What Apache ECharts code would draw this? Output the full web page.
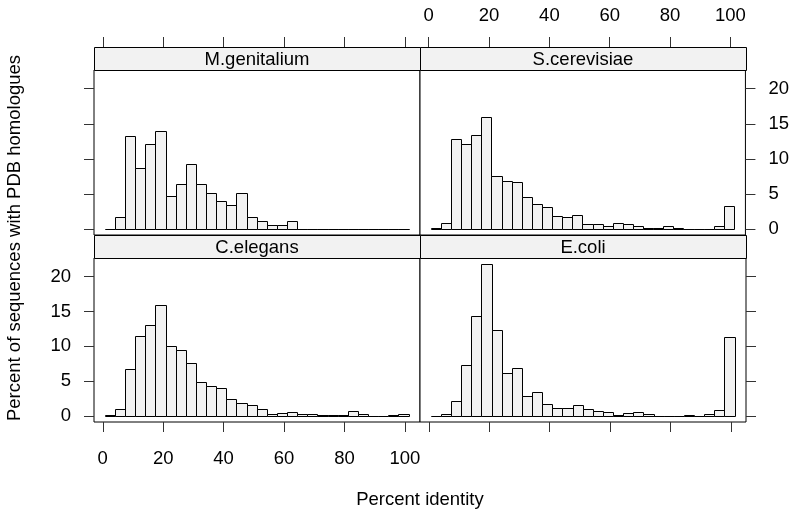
<!DOCTYPE html>
<html>
<head>
<meta charset="utf-8">
<script src="https://cdn.jsdelivr.net/npm/echarts@6/dist/echarts.min.js"></script>
<style>html,body{margin:0;padding:0;background:#fff}#c{width:792px;height:513px}</style>
</head>
<body>
<div id="c"></div>
<script>
// ---- data ----
const panelNames = ['M.genitalium', 'S.cerevisiae', 'C.elegans', 'E.coli'];
const binStart = 0.7;     // first break (percent identity)
const binWidth = 3.35;    // width of each histogram bin
const mGenitalium = [0,1.7,13.3,8.7,12.1,13.9,4.7,6.4,9.2,6.4,5.1,4.0,3.4,5.1,1.7,1.14,0.57,0.57,1.14,0,0,0,0,0,0,0,0,0,0,0];
const sCerevisiae = [0.1,0.86,12.8,12.1,13.4,16.0,7.6,6.8,6.7,4.6,3.6,3.1,1.8,1.7,1.95,0.67,0.67,0.48,0.81,0.67,0.38,0.19,0.19,0.38,0.19,0.05,0.05,0.05,0.38,3.24];
const cElegans = [0.14,1.0,6.67,11.5,13.1,15.9,10.1,9.4,7.6,4.9,4.3,4.05,2.5,1.8,1.6,1.0,0.33,0.43,0.52,0.24,0.24,0.19,0.1,0.14,0.76,0.24,0.05,0.05,0.1,0.33];
const eColi = [0.05,0.33,2.2,7.3,14.4,21.8,12.3,6.2,6.9,2.9,3.4,1.7,1.14,1.14,1.57,1.0,0.76,0.52,0.14,0.38,0.52,0.24,0.05,0.05,0.05,0.14,0.05,0.33,0.81,11.4];
const xTicks = [0, 20, 40, 60, 80, 100];
const yTicks = [0, 5, 10, 15, 20];
const xTitle = 'Percent identity';
const yTitle = 'Percent of sequences with PDB homologues';

// ---- layout ----
const FONT = 'Liberation Sans, Arial, Helvetica, sans-serif';
const FS = 18.5;
const colL = 94, colR = 420, colW = 326;
const stripH = 23;
const rowTop = [70, 258], rowH = [165, 164];
// panel order: [top-left, top-right, bottom-left, bottom-right]
const panels = [
  {name: panelNames[0], values: mGenitalium, col: 0, row: 0},
  {name: panelNames[1], values: sCerevisiae, col: 1, row: 0},
  {name: panelNames[2], values: cElegans, col: 0, row: 1},
  {name: panelNames[3], values: eColi, col: 1, row: 1}
];

const allMax = Math.max(...mGenitalium, ...sCerevisiae, ...cElegans, ...eColi);
const yMin = -0.04 * allMax, yMax = allMax * 1.04;
const xMin = -2.9, xMax = 105;

const grids = [], xAxes = [], yAxes = [], series = [], graphics = [];
const tickStyle = {color: '#333', width: 1};
const labelStyle = {color: '#000', fontSize: FS, fontFamily: FONT};

panels.forEach((p, i) => {
  const left = p.col === 0 ? colL : colR;
  const top = rowTop[p.row];
  grids.push({left: left, top: top, width: colW, height: rowH[p.row],
    show: true, borderColor: '#000', borderWidth: 1, backgroundColor: '#fff'});
  const isTop = p.row === 0;
  const showXLabels = (p.row === 1 && p.col === 0) || (p.row === 0 && p.col === 1);
  const showYLabels = showXLabels;
  xAxes.push({
    type: 'value', gridIndex: i, min: xMin, max: xMax,
    position: isTop ? 'top' : 'bottom', offset: isTop ? stripH : 0,
    axisLine: {show: false, onZero: false}, splitLine: {show: false},
    axisTick: {show: true, length: 10, lineStyle: tickStyle, customValues: xTicks},
    axisLabel: Object.assign({show: showXLabels, margin: isTop ? 22 : 27, customValues: xTicks}, labelStyle)
  });
  yAxes.push({
    type: 'value', gridIndex: i, min: yMin, max: yMax,
    position: p.col === 0 ? 'left' : 'right',
    axisLine: {show: false, onZero: false}, splitLine: {show: false},
    axisTick: {show: true, length: 10, lineStyle: tickStyle, customValues: yTicks},
    axisLabel: Object.assign({show: showYLabels, margin: 23, customValues: yTicks}, labelStyle)
  });
  const data = p.values.map((v, k) => [binStart + k * binWidth, binStart + (k + 1) * binWidth, v]);
  series.push({
    type: 'custom', xAxisIndex: i, yAxisIndex: i, data: data, silent: true,
    renderItem: function (params, api) {
      const a = api.coord([api.value(0), 0]);
      const b = api.coord([api.value(1), api.value(2)]);
      return {
        type: 'rect',
        shape: {x: Math.round(a[0]) + 0.5, y: Math.round(b[1]) + 0.5, width: Math.round(b[0]) - Math.round(a[0]), height: Math.round(a[1]) - Math.round(b[1])},
        style: {fill: '#f2f2f2', stroke: '#000', lineWidth: 1}
      };
    }
  });
  // strip
  graphics.push({type: 'rect', z: 10,
    shape: {x: left + 0.5, y: top - stripH + 0.5, width: colW, height: stripH},
    style: {fill: '#f2f2f2', stroke: '#000', lineWidth: 1}});
  graphics.push({type: 'text', z: 11, x: left + colW / 2, y: top - stripH / 2 + 1,
    style: {text: p.name, font: FS + 'px ' + FONT, fill: '#000', align: 'center', verticalAlign: 'middle'}});
});

graphics.push({type: 'text', x: 420, y: 500,
  style: {text: xTitle, font: FS + 'px ' + FONT, fill: '#000', align: 'center', verticalAlign: 'middle'}});
graphics.push({type: 'text', x: 15, y: 238, rotation: Math.PI / 2,
  style: {text: yTitle, font: FS + 'px ' + FONT, fill: '#000', align: 'center', verticalAlign: 'middle'}});

const chart = echarts.init(document.getElementById('c'), null, {renderer: 'canvas'});
chart.setOption({
  animation: false,
  backgroundColor: '#fff',
  grid: grids, xAxis: xAxes, yAxis: yAxes, series: series, graphic: graphics
});
</script>
</body>
</html>
